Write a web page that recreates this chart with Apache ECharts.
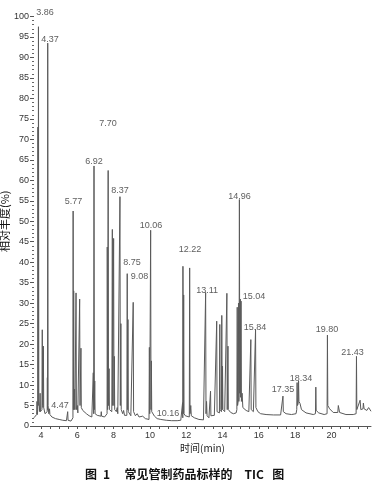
<!DOCTYPE html>
<html>
<head>
<meta charset="utf-8">
<script src="https://cdn.jsdelivr.net/npm/echarts@6/dist/echarts.min.js"></script>
<style>
html,body{margin:0;padding:0;background:#fff;}
#c{width:373px;height:481px;}
</style>
</head>
<body>
<div id="c"></div>
<script>
// ---- data ----
const traceA = [[3.61,2.0],[3.70,2.2],[3.76,2.8],[3.78,6.0],[3.80,2.8],[3.82,4],[3.83,73],[3.845,5],[3.86,97.5],[3.88,6],[3.93,3.5],[3.95,8],[3.97,3.5],[4.02,3.2],[4.05,4],[4.07,23.5],[4.09,5],[4.11,4.5],[4.13,19.5],[4.15,4.5],[4.22,3.0],[4.30,2.8],[4.34,3.5],[4.35,11.8],[4.36,4],[4.37,93.5],[4.39,5],[4.43,3.0],[4.47,4.2],[4.49,2.8],[4.60,2.2],[4.80,1.8],[5.00,1.6],[5.20,1.4],[5.40,1.3],[5.46,1.4],[5.47,3.5],[5.49,1.4],[5.65,1.2],[5.74,1.4]];
const traceB = [[5.76,2],[5.77,52.5],[5.785,4],[5.80,33],[5.82,4],[5.85,9],[5.87,4],[5.93,32.5],[5.95,4],[6.00,5],[6.03,3.2],[6.08,3],[6.13,31],[6.15,5],[6.20,19],[6.22,4.5],[6.30,3.8],[6.40,4.2],[6.50,3],[6.65,2.5],[6.80,2.2],[6.86,2.5],[6.88,13],[6.90,3],[6.92,63.5],[6.94,4],[6.96,11],[6.98,3],[7.10,2.6],[7.30,2.4],[7.32,3.5],[7.34,2.4],[7.50,2.2],[7.60,2.5]];
const traceC = [[7.64,3],[7.65,43.7],[7.67,4],[7.70,62.4],[7.72,5],[7.75,14],[7.77,4],[7.90,3.5],[7.93,48],[7.95,5],[8.00,45.8],[8.02,5],[8.04,17],[8.06,4],[8.15,3.5],[8.20,4.5],[8.23,3],[8.33,3],[8.35,56],[8.37,5],[8.40,25],[8.42,4],[8.50,3],[8.55,3.8],[8.60,2.6],[8.73,2.6],[8.75,37.2],[8.77,4],[8.79,26],[8.81,3.5],[8.95,2.5],[9.06,2.4],[9.08,30.2],[9.10,3.5],[9.20,2.5],[9.30,3],[9.40,2.2],[9.60,2.4],[9.75,1.8],[9.95,1.6],[9.97,19.2],[9.99,3],[10.04,47.8],[10.06,4],[10.08,15.9],[10.10,3.5],[10.16,3.2],[10.25,2.4]];
const traceD = [[10.40,1.8],[10.60,1.6],[10.90,1.4],[11.20,1.3],[11.50,1.3],[11.70,1.4],[11.78,1.6],[11.80,5.7],[11.81,2],[11.82,39],[11.84,3],[11.86,32],[11.88,3],[11.95,2.5],[12.05,2.2],[12.17,2.2],[12.19,38.6],[12.21,3],[12.25,5],[12.28,2.5],[12.45,2],[12.70,1.6],[12.95,1.5],[13.05,1.6],[13.07,32.6],[13.09,3],[13.12,6],[13.15,2.5],[13.25,2],[13.32,2.2],[13.34,8.5],[13.36,2.5],[13.55,2.6],[13.66,2.6],[13.68,25.6],[13.70,3.5],[13.83,3.2],[13.85,24.8],[13.87,4],[13.94,3.5],[13.96,27],[13.98,4],[14.00,14.6],[14.02,4]];
const traceE = [[14.12,3.5],[14.22,3.5],[14.24,32.4],[14.26,4],[14.30,19.5],[14.32,4],[14.45,3.3],[14.60,3],[14.75,3.2],[14.79,4],[14.81,29],[14.83,5],[14.86,6],[14.88,30],[14.90,6],[14.91,7],[14.93,55.3],[14.95,8],[14.98,31],[15.00,7],[15.02,30.5],[15.04,6],[15.08,8],[15.12,4.5],[15.30,3.8],[15.45,3.5],[15.54,3.5],[15.56,21.1],[15.58,4],[15.70,3.5],[15.80,3.5],[15.82,23.6],[15.84,4.5],[15.95,3.5],[16.10,3],[16.40,2.8],[16.80,2.7],[17.20,2.7],[17.31,2.9],[17.33,7.3],[17.35,3.5],[17.50,3],[17.80,2.8],[18.05,3],[18.09,4],[18.11,10.6],[18.13,5],[18.17,5.5],[18.19,11],[18.21,6],[18.27,5.5],[18.35,4],[18.60,3.2],[19.00,2.8],[19.12,3],[19.14,9.5],[19.16,3.8],[19.30,3.2],[19.60,2.8],[19.76,3],[19.78,22.2],[19.80,5],[19.90,4.2],[20.10,3.3],[20.35,3.3],[20.38,5],[20.45,3.3],[20.80,2.8],[21.20,2.8],[21.36,3],[21.38,17],[21.40,4],[21.50,3.8],[21.58,6.3],[21.62,4],[21.74,4.2],[21.76,5.6],[21.80,4.2],[21.95,3.8],[22.05,4.5],[22.18,3.6]];

const peakNames = ['3.86','4.37','4.47','5.77','6.92','7.70','8.37','8.75','9.08','10.06','10.16','12.22','13.11','14.96','15.04','15.84','17.35','18.34','19.80','21.43'];
const peakLabelT = [4.22,4.50,5.05,5.79,6.92,7.69,8.35,9.01,9.43,10.06,11.00,12.21,13.15,14.94,15.74,15.79,17.33,18.32,19.76,21.16];
const peakLabelV = [100.9,94.5,4.9,54.8,64.5,73.9,57.6,40.0,36.5,49.0,3.0,43.0,33.2,56.1,31.7,24.0,8.8,11.6,23.5,17.9];

const xLabelValues = [4,6,8,10,12,14,16,18,20];
const xTickValues = [4,4.5,5,5.5,6,6.5,7,7.5,8,8.5,9,9.5,10,10.5,11,11.5,12,12.5,13,13.5,14,14.5,15,15.5,16,16.5,17,17.5,18,18.5,19,19.5,20,20.5,21,21.5,22];

// ---- chart ----
const trace = traceA.concat(traceB, traceC, traceD, traceE);
const labelData = peakNames.map((n, i) => ({ name: n, value: [peakLabelT[i], peakLabelV[i]] }));

const chart = echarts.init(document.getElementById('c'), null, { renderer: 'canvas' });
const numFont = "'Liberation Sans', Arial, sans-serif";
const cjkFont = "'Noto Sans CJK SC', sans-serif";

chart.setOption({
  animation: false,
  backgroundColor: '#ffffff',
  title: {
    text: '图\u20021\u3000\u2009常见管制药品标样的\u2002\u2002TIC\u2002\u2009图',
    left: 80,
    top: 463,
    textStyle: { fontFamily: cjkFont, fontSize: 12, fontWeight: 'bold', color: '#111' }
  },
  grid: { left: 34, right: 2, top: 16.5, bottom: 55, containLabel: false, outerBoundsMode: 'none' },
  xAxis: {
    type: 'value',
    min: 3.614,
    max: 22.18,
    name: '时间(min)',
    nameLocation: 'middle',
    nameGap: 17,
    nameMoveOverlap: false,
    nameTextStyle: { fontFamily: cjkFont, fontSize: 10, color: '#222' },
    axisLine: { show: true, lineStyle: { color: '#555', width: 1 } },
    axisTick: { show: true, length: 3, lineStyle: { color: '#555' }, customValues: xTickValues },
    axisLabel: { fontFamily: numFont, fontSize: 9, color: '#333', margin: 5, customValues: xLabelValues },
    splitLine: { show: false }
  },
  yAxis: {
    type: 'value',
    min: 0,
    max: 100,
    interval: 5,
    name: '相对丰度(%)',
    nameLocation: 'middle',
    nameGap: 24,
    nameMoveOverlap: false,
    nameTextStyle: { fontFamily: cjkFont, fontSize: 11, color: '#111' },
    axisLine: { show: false },
    axisTick: { show: true, length: 4, lineStyle: { color: '#555' } },
    minorTick: { show: true, splitNumber: 5, length: 2, lineStyle: { color: '#666' } },
    axisLabel: { fontFamily: numFont, fontSize: 9, color: '#333', margin: 5 },
    splitLine: { show: false },
    minorSplitLine: { show: false }
  },
  series: [
    {
      type: 'line',
      data: trace,
      showSymbol: false,
      symbol: 'none',
      lineStyle: { color: '#5a5a5a', width: 1 },
      clip: false,
      z: 2
    },
    {
      type: 'scatter',
      data: labelData,
      symbolSize: 1,
      itemStyle: { color: 'rgba(0,0,0,0)' },
      clip: false,
      label: {
        show: true,
        position: 'inside',
        formatter: p => p.name,
        fontFamily: numFont,
        fontSize: 9,
        color: '#333'
      },
      z: 3
    }
  ]
});
</script>
</body>
</html>
